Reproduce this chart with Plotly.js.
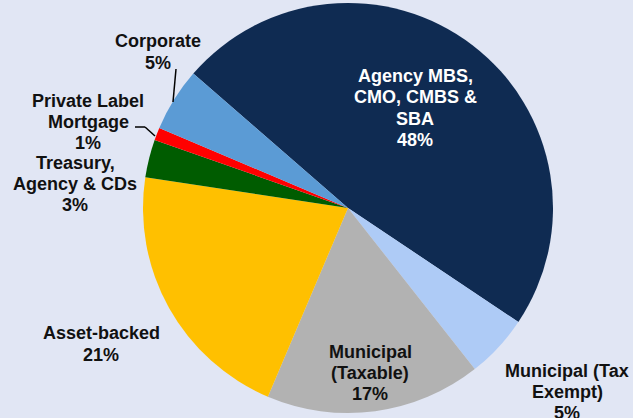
<!DOCTYPE html>
<html>
<head>
<meta charset="utf-8">
<script src="https://cdn.plot.ly/plotly-3.0.1.min.js"></script>
<style>html,body{margin:0;padding:0;background:#E1E6F4;}#chart{width:633px;height:418px;}</style>
</head>
<body>
<div id="chart"></div>
<script>
const categories = ["Agency MBS, CMO, CMBS & SBA", "Municipal (Tax Exempt)", "Municipal (Taxable)", "Asset-backed", "Treasury, Agency & CDs", "Private Label Mortgage", "Corporate"];
const labelText = ["Agency MBS,<br>CMO, CMBS &<br>SBA", "Municipal (Tax<br>Exempt)", "Municipal<br>(Taxable)", "Asset-backed", "Treasury,<br>Agency & CDs", "Private Label<br>Mortgage", "Corporate"];
const shares = [48, 5, 17, 21, 3, 1, 5];
const sliceColors = ["#0F2B52", "#AECBF6", "#B2B2B2", "#FFC000", "#005C00", "#FF0000", "#5B9BD5"];
const labelColors = ["#FFFFFF", "#111111", "#111111", "#111111", "#111111", "#111111", "#111111"];
// label block centres in pixels
const labelPos = [[415, 108], [567, 392], [370, 373], [101, 344], [75, 184], [88, 122], [158, 52]];

const W = 633, H = 418;
const px = x => x / W, py = y => 1 - y / H;
const LINE = 21.2;

const annotations = [];
categories.forEach((c, i) => {
  const lines = (labelText[i] + '<br>' + shares[i] + '%').split('<br>');
  const n = lines.length;
  lines.forEach((t, k) => {
    const y = labelPos[i][1] + (k - (n - 1) / 2) * LINE;
    annotations.push({
      xref: 'paper', yref: 'paper',
      x: px(labelPos[i][0]), y: py(y),
      xanchor: 'center', yanchor: 'middle',
      text: '<b>' + t + '</b>',
      showarrow: false,
      font: {family: 'Liberation Sans, Arial, sans-serif', size: 18, color: labelColors[i]},
      align: 'center'
    });
  });
});

const seg = (x0, y0, x1, y1) => ({type: 'line', xref: 'paper', yref: 'paper',
  x0: px(x0), y0: py(y0), x1: px(x1), y1: py(y1), line: {color: '#000000', width: 1.5}});

const shapes = [
  seg(176, 69, 173, 102),
  seg(135, 127, 145, 127),
  seg(145, 127, 155, 136)
];

const data = [{
  type: 'pie',
  labels: categories,
  values: shares,
  sort: false,
  direction: 'clockwise',
  rotation: -49,
  textinfo: 'none',
  hoverinfo: 'label+percent',
  marker: {colors: sliceColors, line: {width: 0}},
  domain: {x: [(348 - 215) / W, (348 + 215) / W], y: [5 / H, 415 / H]},
  showlegend: false
}];

const layout = {
  width: W, height: H,
  margin: {l: 0, r: 0, t: 0, b: 0},
  paper_bgcolor: '#E1E6F4',
  plot_bgcolor: '#E1E6F4',
  showlegend: false,
  annotations: annotations,
  shapes: shapes
};

Plotly.newPlot('chart', data, layout, {displayModeBar: false, staticPlot: true});
</script>
</body>
</html>
